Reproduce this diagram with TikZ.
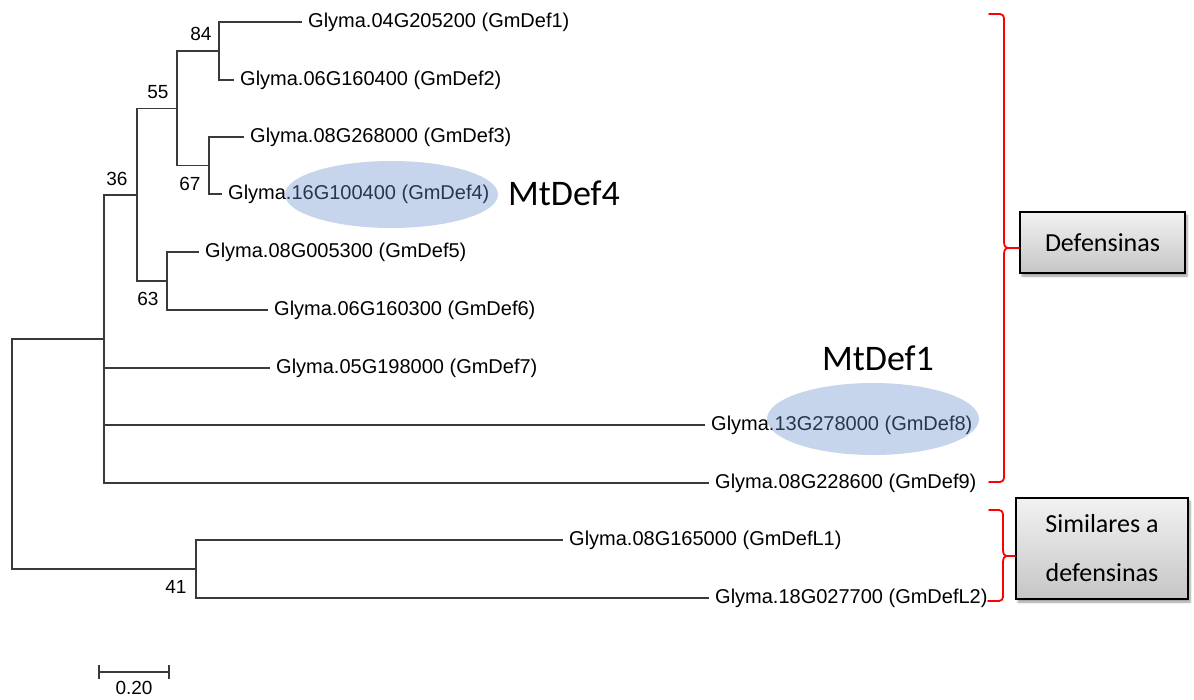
\documentclass[tikz,border=0pt]{standalone}
\usepackage{fontspec}
\setmainfont{Liberation Sans}
\newfontfamily\calib{Carlito}
\usetikzlibrary{shadows.blur}
\definecolor{treeline}{HTML}{3A3A3A}
\definecolor{hl}{RGB}{105,142,205}
\begin{document}
\begin{tikzpicture}[x=1pt, y=-1pt,
  branch/.style={draw=treeline, line width=1.1pt},
  leaf/.style={anchor=west, inner xsep=6pt, inner ysep=1pt, font=\fontsize{20}{24}\selectfont},
  boot/.style={inner sep=0pt, font=\fontsize{19}{22}\selectfont},
  hilite/.style={fill=hl, fill opacity=0.38, draw=none},
  bigtag/.style={inner sep=0pt, font=\calib\fontsize{36}{40}\selectfont},
  brace/.style={draw=red, line width=1.8pt, line cap=round, line join=round},
  groupbox/.style={draw=black, line width=1.5pt, top color=gray!10, bottom color=gray!45,
    align=center, inner sep=0pt, font=\calib\fontsize{26}{49}\selectfont,
    blur shadow={shadow xshift=2pt, shadow yshift=-3pt, shadow blur steps=6, shadow opacity=40}}
]
\useasboundingbox (0,0) rectangle (1194,699);

% internal nodes of the tree
\coordinate (root) at (12,454);
\coordinate (n36) at (104,339);
\coordinate (nA)  at (137,195);
\coordinate (n55) at (177,108.5);
\coordinate (n84) at (219,51);
\coordinate (n67) at (209,165.5);
\coordinate (n63) at (167,281);
\coordinate (n41) at (196,569);

% leaves
\node[leaf] (d1) at (302,22)  {Glyma.04G205200 (GmDef1)};
\node[leaf] (d2) at (234,80)  {Glyma.06G160400 (GmDef2)};
\node[leaf] (d3) at (244,137) {Glyma.08G268000 (GmDef3)};
\node[leaf] (d4) at (222,194) {Glyma.16G100400 (GmDef4)};
\node[leaf] (d5) at (199,252) {Glyma.08G005300 (GmDef5)};
\node[leaf] (d6) at (268,310) {Glyma.06G160300 (GmDef6)};
\node[leaf] (d7) at (270,368) {Glyma.05G198000 (GmDef7)};
\node[leaf] (d8) at (705,425) {Glyma.13G278000 (GmDef8)};
\node[leaf] (d9) at (709,483) {Glyma.08G228600 (GmDef9)};
\node[leaf] (l1) at (563,540) {Glyma.08G165000 (GmDefL1)};
\node[leaf] (l2) at (709,598) {Glyma.18G027700 (GmDefL2)};

% branches
\draw[branch] (root) |- (n36);
\draw[branch] (root) |- (n41);
\draw[branch] (n36) |- (nA);
\draw[branch] (n36) |- (d7.west);
\draw[branch] (n36) |- (d8.west);
\draw[branch] (n36) |- (d9.west);
\draw[branch] (nA) |- (n55);
\draw[branch] (nA) |- (n63);
\draw[branch] (n55) |- (n84);
\draw[branch] (n55) |- (n67);
\draw[branch] (n84) |- (d1.west);
\draw[branch] (n84) |- (d2.west);
\draw[branch] (n67) |- (d3.west);
\draw[branch] (n67) |- (d4.west);
\draw[branch] (n63) |- (d5.west);
\draw[branch] (n63) |- (d6.west);
\draw[branch] (n41) |- (l1.west);
\draw[branch] (n41) |- (l2.west);

% bootstrap values
\node[boot] (b84) at (201,34)  {84};
\node[boot] (b55) at (158,92)  {55};
\node[boot] (b67) at (190,184) {67};
\node[boot] (b36) at (117,179) {36};
\node[boot] (b63) at (148,299) {63};
\node[boot] (b41) at (176,587) {41};

% scale bar
\coordinate (s1) at (99,672);
\coordinate (s2) at (169,672);
\draw[branch] (s1) -- (s2);
\draw[branch] ([yshift=7pt]s1) -- ([yshift=-7pt]s1);
\draw[branch] ([yshift=7pt]s2) -- ([yshift=-7pt]s2);
\node[boot] (sc) at (134,688) {0.20};

% highlighted genes
\path[hilite] (391.5,194.5) ellipse [x radius=106.5pt, y radius=33.5pt];
\path[hilite] (873,419) ellipse [x radius=106pt, y radius=36pt];
\node[bigtag] (mt4) at (564,193) {MtDef4};
\node[bigtag] (mt1) at (878,358) {MtDef1};

% group boxes
\node[groupbox, minimum width=165pt, minimum height=61pt] (gdef) at (1102.5,242.5) {Defensinas};
\node[groupbox, minimum width=172pt, minimum height=101pt] (gsim) at (1102,548.5) {Similares a\\defensinas};

% braces
\coordinate (t1) at (1009,248);
\draw[brace, rounded corners=4pt] (989,14) -- (1004,14) -- (1004,241);
\draw[brace] (1004,241) .. controls (1004,246) and (1005,248) .. (t1)
             .. controls (1005,248) and (1004,250) .. (1004,255);
\draw[brace, rounded corners=4pt] (1004,255) -- (1004,482) -- (989,482);
\draw[brace] (t1) -- (gdef.west |- t1);

\coordinate (t2) at (1008,556);
\draw[brace, rounded corners=4pt] (989,510) -- (1003,510) -- (1003,549);
\draw[brace] (1003,549) .. controls (1003,554) and (1004,556) .. (t2)
             .. controls (1004,556) and (1003,558) .. (1003,563);
\draw[brace, rounded corners=4pt] (1003,563) -- (1003,601) -- (988,601);
\draw[brace] (t2) -- (gsim.west |- t2);
\end{tikzpicture}
\end{document}
